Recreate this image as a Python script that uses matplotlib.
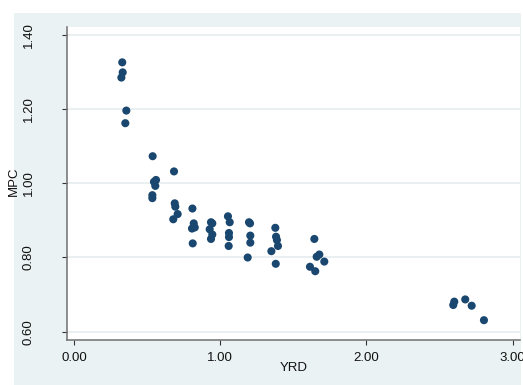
import matplotlib
matplotlib.use('Agg')
import matplotlib.pyplot as plt
from matplotlib.patches import Rectangle

# YRD vs MPC observations
yrd = [0.330, 0.333, 0.324, 0.358, 0.351,
       0.538, 0.547, 0.561, 0.556, 0.536, 0.536,
       0.684, 0.689, 0.693, 0.709, 0.679,
       0.810, 0.819, 0.826, 0.807, 0.812,
       0.937, 0.946, 0.928, 0.946, 0.937,
       1.053, 1.065, 1.060, 1.060, 1.058,
       1.197, 1.204, 1.206, 1.206, 1.188,
       1.350, 1.377, 1.382, 1.388, 1.395, 1.380,
       1.644, 1.660, 1.678, 1.712, 1.614, 1.650,
       2.601, 2.594, 2.676, 2.720, 2.804]
mpc = [1.326, 1.299, 1.285, 1.196, 1.162,
       1.073, 1.004, 1.009, 0.993, 0.968, 0.960,
       1.032, 0.946, 0.937, 0.917, 0.903,
       0.932, 0.892, 0.881, 0.878, 0.838,
       0.895, 0.892, 0.876, 0.862, 0.850,
       0.911, 0.895, 0.866, 0.855, 0.831,
       0.895, 0.892, 0.859, 0.840, 0.800,
       0.817, 0.880, 0.856, 0.847, 0.831, 0.783,
       0.850, 0.802, 0.808, 0.789, 0.775, 0.763,
       0.681, 0.672, 0.687, 0.670, 0.631]

xticks = [0, 1, 2, 3]
yticks = [0.6, 0.8, 1.0, 1.2, 1.4]

plt.rcParams['font.family'] = ['Liberation Sans', 'DejaVu Sans']
plt.rcParams['font.size'] = 9.5

W, H = 523, 385
bg = '#EAF2F3'
navy = '#1A476F'

fig = plt.figure(figsize=(W / 100, H / 100), dpi=100, facecolor='white')
# graph region, sits behind the axes
fig.patches.append(Rectangle((14 / W, 0), (521 - 14) / W, (H - 13) / H,
                             transform=fig.transFigure, facecolor=bg,
                             edgecolor='none', zorder=-10))

ax = fig.add_axes([66.5 / W, (H - 340) / H, (520 - 66.5) / W, (340 - 27) / H])
ax.set_facecolor('white')

ax.scatter(yrd, mpc, s=34, color=navy, edgecolors='none', zorder=3)

ax.set_xlim(-0.0513, 3.0506)
ax.set_ylim(0.5776, 1.4213)
ax.set_xticks(xticks)
ax.set_xticklabels(['{:.2f}'.format(v) for v in xticks])
ax.set_yticks(yticks)
ax.set_yticklabels(['{:.2f}'.format(v) for v in yticks], rotation=90, va='center')

ax.grid(axis='y', color='#E4ECEE', linewidth=1.1, zorder=1)
ax.set_axisbelow(True)

for side in ['top', 'right']:
    ax.spines[side].set_visible(False)
for side in ['left', 'bottom']:
    ax.spines[side].set_color('#707070')
    ax.spines[side].set_linewidth(1.1)

ax.tick_params(axis='both', direction='out', length=3.3, width=0.8, color='#333333',
               labelcolor='#111111')
ax.tick_params(axis='x', pad=5)
ax.tick_params(axis='y', pad=19.5)

fig.text(293.5 / W, (H - 368) / H, 'YRD', ha='center', va='center', color='#111111')
fig.text(13.5 / W, (H - 181) / H, 'MPC', ha='center', va='center', rotation=90,
         color='#111111')

fig.savefig('out.png', dpi=100, facecolor='white')
